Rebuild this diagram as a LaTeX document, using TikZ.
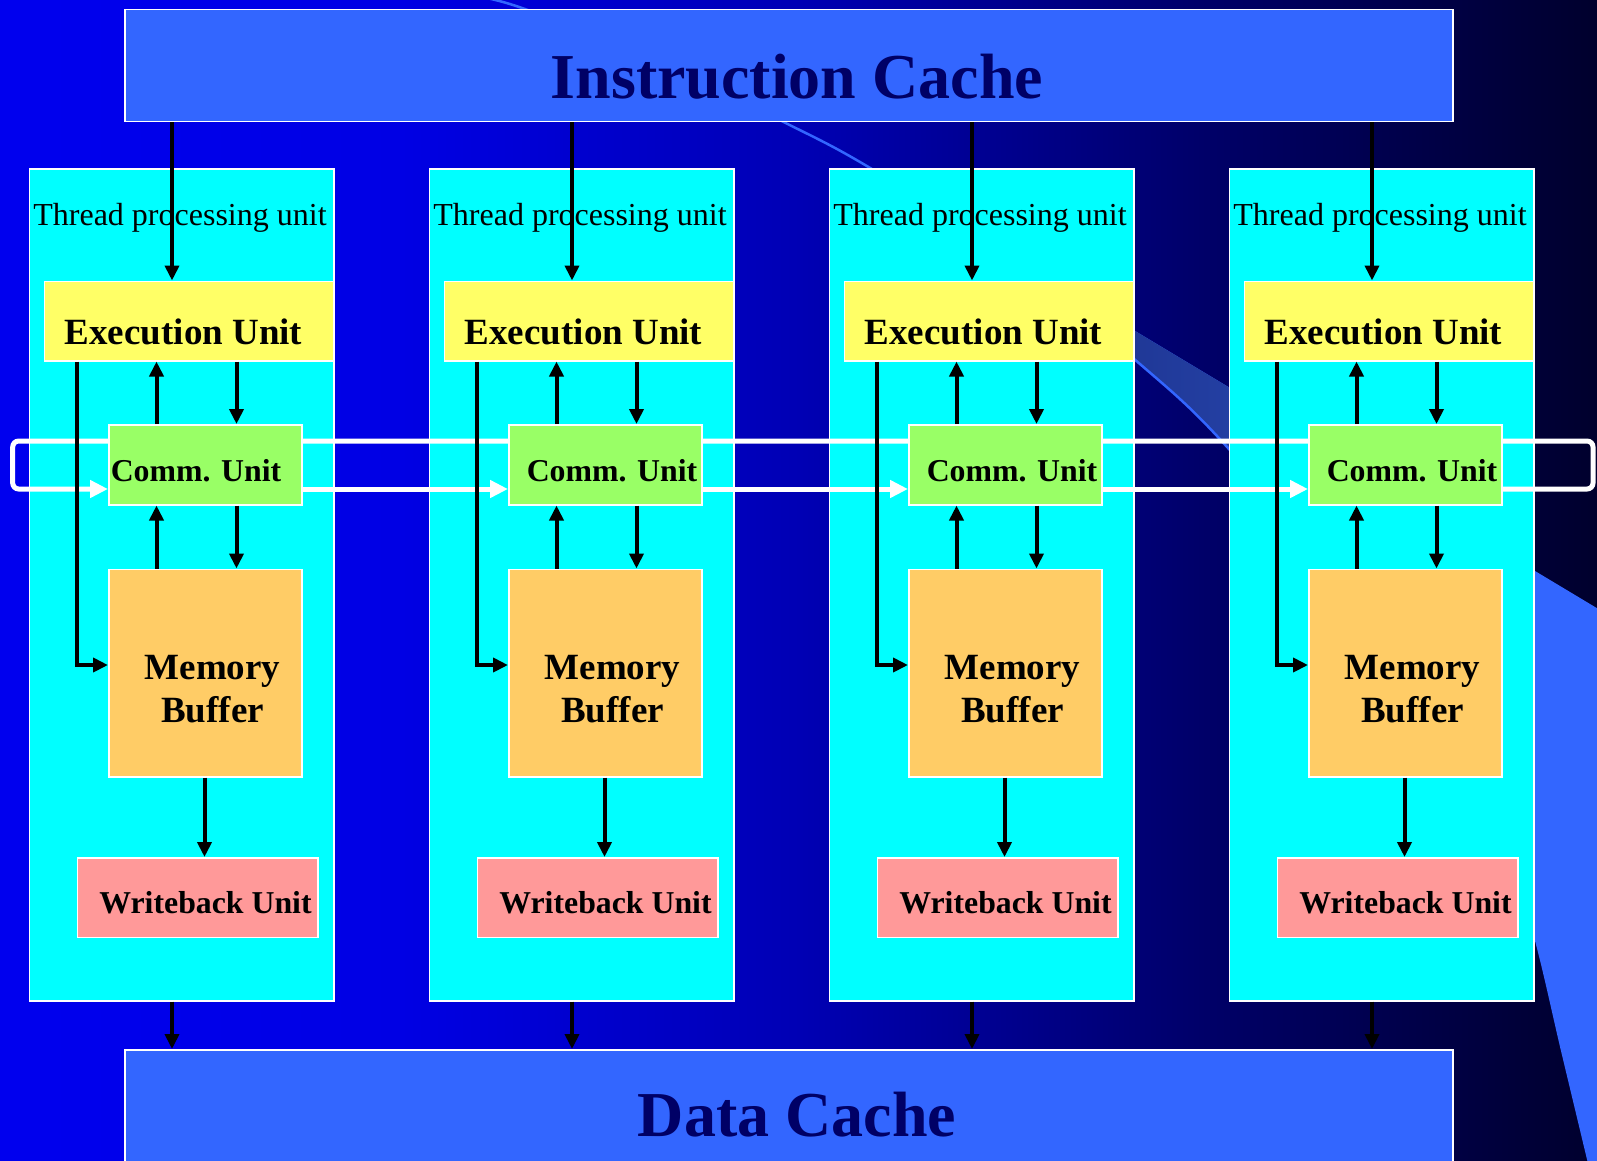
\documentclass[tikz,border=0pt]{standalone}
\usepackage{fontspec}
\setmainfont{Liberation Serif}
\usetikzlibrary{arrows.meta}

\pgfdeclarelayer{backdrop}
\pgfdeclarelayer{units}
\pgfdeclarelayer{ring}
\pgfsetlayers{backdrop,units,ring,main}

% slide background and decoration
\definecolor{bgA}{RGB}{0,0,238}
\definecolor{bgB}{RGB}{0,0,228}
\definecolor{bgC}{RGB}{0,0,180}
\definecolor{bgD}{RGB}{0,0,105}
\definecolor{bgE}{RGB}{0,0,45}
\definecolor{swooshfill}{RGB}{51,102,255}
\definecolor{swooshA}{RGB}{26,46,135}
\definecolor{swooshB}{RGB}{38,68,170}
% block colours
\definecolor{cachefill}{RGB}{51,102,255}
\definecolor{cachetext}{RGB}{0,0,102}
\definecolor{tpufill}{RGB}{0,255,255}
\definecolor{execfill}{RGB}{255,255,102}
\definecolor{commfill}{RGB}{153,255,102}
\definecolor{memfill}{RGB}{255,204,102}
\definecolor{wbfill}{RGB}{255,153,153}

% crescent-shaped swoosh in the lower right
\newcommand\swooshshape{(1000,250) -- (1720,682) -- (1720,1200) -- plot[smooth, tension=0.6] coordinates {(1592,1175) (1563,1054) (1533,929) (1500,835) (1370,620) (1228,448) (1133,358) (1000,250)} -- cycle}

\tikzset{
  box/.style={draw=white, line width=1.5pt, inner sep=0pt, anchor=north west},
  cachebox/.style={box, fill=cachefill, minimum width=1328pt, minimum height=112pt},
  tpubox/.style={box, fill=tpufill, minimum width=304.5pt, minimum height=832pt},
  execbox/.style={box, fill=execfill, minimum width=289.5pt, minimum height=79.5pt},
  commbox/.style={box, fill=commfill, minimum width=193pt, minimum height=80pt},
  membox/.style={box, fill=memfill, minimum width=193pt, minimum height=207.5pt},
  wbbox/.style={box, fill=wbfill, minimum width=240.5pt, minimum height=79.5pt},
  txt/.style={inner sep=0pt, anchor=base, text=black},
  cachelbl/.style={txt, text=cachetext, font=\fontsize{64}{70}\selectfont\bfseries},
  tpulbl/.style={txt, font=\fontsize{32}{36}\selectfont},
  biglbl/.style={txt, font=\fontsize{37}{42}\selectfont\bfseries},
  smalllbl/.style={txt, font=\fontsize{31.8}{36}\selectfont\bfseries},
  flow/.style={draw=black, line width=4pt, -{Triangle[length=15pt,width=14pt]}},
  ringline/.style={draw=white, line width=5pt, rounded corners=6pt, -{Triangle[length=18pt,width=17pt]}},
  swooshline/.style={draw=swooshfill, line width=2.5pt},
}

\begin{document}
\begin{tikzpicture}[x=1pt, y=-1pt]
\useasboundingbox (0,0) rectangle (1597,1160);

% background gradient with the swoosh
\begin{pgfonlayer}{backdrop}
  \shade[left color=bgA, right color=bgB] (0,0) rectangle (401,1160);
  \shade[left color=bgB, right color=bgC] (400,0) rectangle (801,1160);
  \shade[left color=bgC, right color=bgD] (800,0) rectangle (1201,1160);
  \shade[left color=bgD, right color=bgE] (1200,0) rectangle (1597,1160);
  \fill[swooshfill] \swooshshape;
  \begin{scope}
    \clip \swooshshape;
    \shade[left color=swooshA, right color=swooshB] (990,200) rectangle (1300,700);
  \end{scope}
  \draw[swooshline] plot[smooth, tension=0.6] coordinates {(468,-5) (520,7.3) (650,58) (783,121.7) (868,166.7) (1000,250) (1133,358) (1228,448) (1370,620) (1500,835) (1533,929) (1563,1054) (1592,1175)};
\end{pgfonlayer}

% shared caches
\begin{pgfonlayer}{units}
  \node[cachebox] (ic) at (124,8.5) {};
  \node[cachebox, minimum height=125pt] (dc) at (124,1049) {};
\end{pgfonlayer}
\node[cachelbl] (icT) at (797,98) {Instruction Cache};
\node[cachelbl] (dcT) at (797,1136) {Data Cache};

% four thread processing units
\foreach \k in {0,1,2,3}{
  \pgfmathsetmacro\ox{400*\k}
  \ifnum\k=0 \def\cx{88}\else\def\cx{104}\fi
  \begin{pgfonlayer}{units}
    \node[tpubox] (tp\k) at (28.5+\ox,168) {};
    \node[tpulbl] (tpT\k) at (180+\ox,225) {Thread processing unit};
  \end{pgfonlayer}
  \node[execbox] (ex\k) at (43.5+\ox,280.5) {};
  \node[commbox] (cu\k) at (108+\ox,424) {};
  \node[membox]  (mb\k) at (108+\ox,568.5) {};
  \node[wbbox]   (wb\k) at (76.5+\ox,857) {};
  \node[biglbl]   (exT\k) at (183.5+\ox,344) {Execution Unit};
  \node[smalllbl] (cuT\k) at (108+\cx+\ox,481) {Comm. Unit};
  \node[biglbl]   (mbT\k) at (212.5+\ox,679) {Memory};
  \node[biglbl]   (bfT\k) at (212.5+\ox,722) {Buffer};
  \node[smalllbl] (wbT\k) at (205.5+\ox,913) {Writeback Unit};
  % connector columns
  \coordinate (ax\k) at (172+\ox,0);
  \coordinate (ux\k) at (156.5+\ox,0);
  \coordinate (dx\k) at (236.5+\ox,0);
  \coordinate (wx\k) at (204.5+\ox,0);
  \coordinate (elb\k) at (76.5+\ox,665);
  \draw[flow] (ic.south -| ax\k) -- (ex\k.north -| ax\k);
  \draw[flow] (cu\k.north -| ux\k) -- (ex\k.south -| ux\k);
  \draw[flow] (ex\k.south -| dx\k) -- (cu\k.north -| dx\k);
  \draw[flow] (mb\k.north -| ux\k) -- (cu\k.south -| ux\k);
  \draw[flow] (cu\k.south -| dx\k) -- (mb\k.north -| dx\k);
  \draw[flow] (ex\k.south -| elb\k) |- (mb\k.west |- elb\k);
  \draw[flow] (mb\k.south -| wx\k) -- (wb\k.north -| wx\k);
  \draw[flow] (tp\k.south -| ax\k) -- (dc.north -| ax\k);
}

% communication ring linking the Comm. Units
\coordinate (ringNE) at (1593,441);
\coordinate (ringSW) at (12.7,489);
\begin{pgfonlayer}{ring}
  \draw[ringline] (cu3.east |- ringSW) -| (ringNE) -| (ringSW) -- (cu0.west |- ringSW);
  \foreach \k/\n in {0/1,1/2,2/3}
    \draw[ringline] (cu\k.east |- ringSW) -- (cu\n.west |- ringSW);
\end{pgfonlayer}
\end{tikzpicture}
\end{document}
